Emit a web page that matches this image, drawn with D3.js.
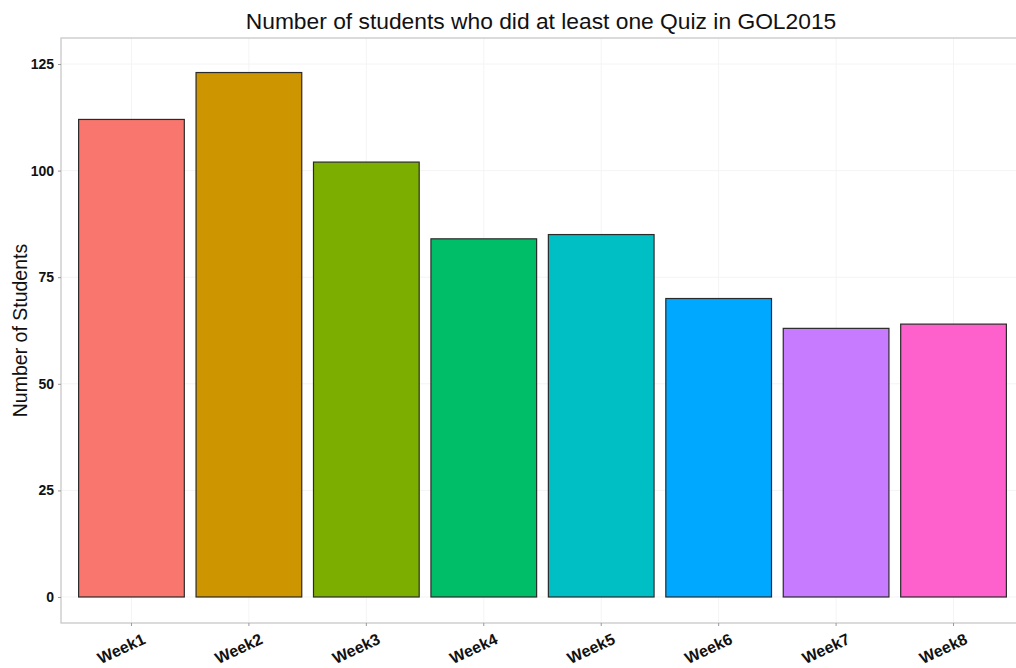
<!DOCTYPE html>
<html><head><meta charset="utf-8">
<script src="https://cdn.jsdelivr.net/npm/d3@7"></script>
<style>body{margin:0;background:#fff}svg{display:block}</style>
</head><body>
<script>
const categories = ["Week1","Week2","Week3","Week4","Week5","Week6","Week7","Week8"];
const values = [112,123,102,84,85,70,63,64];
const colors = ["#F8766D","#CD9600","#7CAE00","#00BE67","#00BFC4","#00A9FF","#C77CFF","#FF61CC"];
const yTicks = [0,25,50,75,100,125];
const title = "Number of students who did at least one Quiz in GOL2015";
const yTitle = "Number of Students";

const W = 1016, H = 668;
const panel = {left: 61, top: 38, right: 1024, bottom: 623};
const svg = d3.select("body").append("svg").attr("width", W).attr("height", H);

const x = d3.scaleBand().domain(categories).range([panel.left, panel.right]).paddingInner(0.1).paddingOuter(0.15);
const y = d3.scaleLinear().domain([-6.1, 131.1]).range([panel.bottom, panel.top]);

// grid
const g = svg.append("g");
g.selectAll(".gy").data(yTicks).enter().append("line")
  .attr("x1", panel.left).attr("x2", panel.right).attr("y1", d=>y(d)).attr("y2", d=>y(d))
  .attr("stroke", "#f4f4f4").attr("stroke-width", 1);
g.selectAll(".gx").data(categories).enter().append("line")
  .attr("y1", panel.top).attr("y2", panel.bottom).attr("x1", d=>x(d)+x.bandwidth()/2).attr("x2", d=>x(d)+x.bandwidth()/2)
  .attr("stroke", "#f4f4f4").attr("stroke-width", 1);

// bars
svg.selectAll(".bar").data(values).enter().append("rect")
  .attr("x", (d,i)=>x(categories[i]))
  .attr("width", x.bandwidth())
  .attr("y", d=>y(d))
  .attr("height", d=>y(0)-y(d))
  .attr("fill", (d,i)=>colors[i])
  .attr("stroke", "#2a2a2a").attr("stroke-width", 1.2);

// panel border
svg.append("rect").attr("x", panel.left).attr("y", panel.top)
  .attr("width", panel.right-panel.left).attr("height", panel.bottom-panel.top)
  .attr("fill", "none").attr("stroke", "#c8c8c8").attr("stroke-width", 1.3);

// y axis
const ya = svg.append("g").attr("transform", `translate(${panel.left},0)`)
  .call(d3.axisLeft(y).tickValues(yTicks).tickSize(3).tickPadding(4));
ya.select(".domain").remove();
ya.selectAll(".tick line").attr("stroke", "#999");
ya.selectAll("text").attr("font-family", "Liberation Sans, Arial, sans-serif").attr("font-weight", "bold")
  .attr("font-size", 14).attr("fill", "#111");

// x axis
const xa = svg.append("g").attr("transform", `translate(0,${panel.bottom})`)
  .call(d3.axisBottom(x).tickSize(3).tickPadding(4));
xa.select(".domain").remove();
xa.selectAll(".tick line").attr("stroke", "#999");
xa.selectAll("text").attr("font-family", "Liberation Sans, Arial, sans-serif").attr("font-weight", "bold")
  .attr("font-size", 16).attr("fill", "#111")
  .attr("text-anchor", "end").attr("dy", null).attr("y", 0).attr("x", 0)
  .attr("transform", "translate(15,20) rotate(-25)");

// title
svg.append("text").attr("x", 541).attr("y", 29).attr("text-anchor", "middle")
  .attr("font-family", "Liberation Sans, Arial, sans-serif").attr("font-size", 22.8).attr("fill", "#111").text(title);

// y title
svg.append("text").attr("transform", `translate(27,${(panel.top+panel.bottom)/2}) rotate(-90)`)
  .attr("text-anchor", "middle").attr("font-family", "Liberation Sans, Arial, sans-serif")
  .attr("font-size", 19.5).attr("fill", "#111").text(yTitle);
</script>
</body></html>
